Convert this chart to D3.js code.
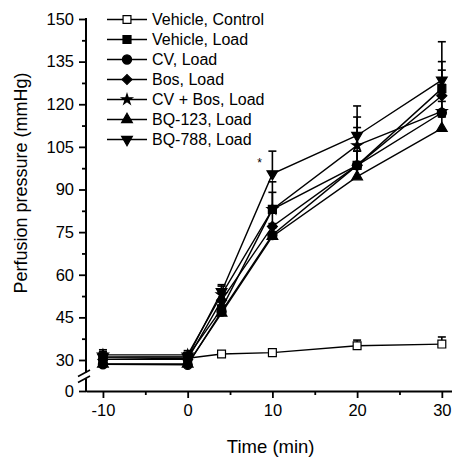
<!DOCTYPE html>
<meta charset="utf-8">
<style>
  body {
    margin: 0;
    background-color: white;
  }
  text {
    font-family: "Liberation Sans", Arial, sans-serif;
    fill: black;
  }
</style>
<script src="https://d3js.org/d3.v7.min.js"></script>
<body>
<div id="my_dataviz"></div>
<script>
  // time points (min)
  var times = [-10, 0, 4, 10, 20, 30];

  var seriesNames = ["Vehicle, Control", "Vehicle, Load", "CV, Load", "Bos, Load",
                     "CV + Bos, Load", "BQ-123, Load", "BQ-788, Load"];

  // mean perfusion pressure (mmHg), one array per group
  var vehicleControl = [30.2, 30.6, 32.1, 32.6, 35.0, 35.6];
  var vehicleLoad    = [31.0, 31.2, 48.0, 83.0, 98.5, 125.5];
  var cvLoad         = [28.5, 28.3, 47.0, 74.0, 98.5, 117.0];
  var bosLoad        = [30.2, 30.2, 51.0, 77.0, 98.5, 123.0];
  var cvBosLoad      = [31.8, 31.8, 53.0, 83.0, 105.5, 117.5];
  var bq123Load      = [28.6, 28.6, 46.5, 73.5, 94.5, 111.5];
  var bq788Load      = [31.0, 31.0, 54.0, 95.5, 109.0, 128.5];

  // upper error bars (SEM)
  var vehicleControlErr = [1.2, 1.0, 0.6, 0.6, 2.0, 2.5];
  var vehicleLoadErr    = [1.8, 1.5, 3.0, 9.7, 13.3, 9.5];
  var cvLoadErr         = [1.5, 1.5, 2.0, 4.0, 5.0, 4.0];
  var bosLoadErr        = [1.5, 1.5, 3.0, 5.0, 5.0, 4.0];
  var cvBosLoadErr      = [1.8, 1.5, 3.0, 6.0, 10.0, 14.5];
  var bq123LoadErr      = [1.5, 1.5, 2.0, 3.0, 4.0, 4.0];
  var bq788LoadErr      = [2.0, 1.5, 2.5, 8.0, 10.4, 13.5];

  var xTicks = [-10, 0, 10, 20, 30];
  var xMinorTicks = [-5, 5, 15, 25];
  var yTicks = [0, 30, 45, 60, 75, 90, 105, 120, 135, 150];
  var yMinorTicks = [37.5, 52.5, 67.5, 82.5, 97.5, 112.5, 127.5, 142.5];

  var allValues = [vehicleControl, vehicleLoad, cvLoad, bosLoad, cvBosLoad, bq123Load, bq788Load];
  var allErrs = [vehicleControlErr, vehicleLoadErr, cvLoadErr, bosLoadErr, cvBosLoadErr, bq123LoadErr, bq788LoadErr];

  var width = 452, height = 457;

  var svg = d3.select("#my_dataviz")
    .append("svg")
      .attr("width", width)
      .attr("height", height);

  var x = d3.scaleLinear().domain([-12, 31.2]).range([86, 452]);
  // broken axis: 0 sits below the break, 30..150 above it
  var y = d3.scaleLinear().domain([0, 25, 150]).range([391, 374.2, 19]);

  // marker shapes
  var symbols = [
    {type: d3.symbolSquare, size: 62, rot: 0, fill: "white"},
    {type: d3.symbolSquare, size: 64, rot: 0, fill: "black"},
    {type: d3.symbolCircle, size: 66, rot: 0, fill: "black"},
    {type: d3.symbolSquare, size: 50, rot: 45, fill: "black"},
    {type: d3.symbolStar, size: 34, rot: 0, fill: "black"},
    {type: d3.symbolTriangle, size: 50, rot: 0, fill: "black"},
    {type: d3.symbolTriangle, size: 50, rot: 180, fill: "black"}
  ];

  var series = seriesNames.map(function(name, i) {
    return {
      name: name,
      sym: symbols[i],
      points: times.map(function(t, j) { return {t: t, v: allValues[i][j], e: allErrs[i][j]}; })
    };
  });

  // plain hyphen for negatives, like the original
  var plain = function(d) { return String(d); };

  // axes
  var xAxis = svg.append("g")
    .attr("transform", "translate(0,391)")
    .call(d3.axisBottom(x).tickValues(xTicks).tickFormat(plain).tickSize(7).tickPadding(6).tickSizeOuter(0));
  xAxis.select(".domain").attr("stroke-width", 2);
  xAxis.selectAll(".tick line").attr("stroke-width", 1.8);
  xAxis.selectAll("text").style("font-size", "16.5px").style("font-family", "'Liberation Sans', Arial, sans-serif");

  var xMinor = svg.append("g")
    .attr("transform", "translate(0,391)")
    .call(d3.axisBottom(x).tickValues(xMinorTicks).tickSize(4).tickFormat(""));
  xMinor.select(".domain").remove();
  xMinor.selectAll(".tick line").attr("stroke-width", 1.8);

  var yAxis = svg.append("g")
    .attr("transform", "translate(86,0)")
    .call(d3.axisLeft(y).tickValues(yTicks).tickFormat(plain).tickSize(7).tickPadding(5));
  yAxis.select(".domain").remove();
  yAxis.selectAll(".tick line").attr("stroke-width", 1.8);
  yAxis.selectAll("text").style("font-size", "16.5px").style("font-family", "'Liberation Sans', Arial, sans-serif");

  var yMinor = svg.append("g")
    .attr("transform", "translate(86,0)")
    .call(d3.axisLeft(y).tickValues(yMinorTicks).tickSize(4).tickFormat(""));
  yMinor.select(".domain").remove();
  yMinor.selectAll(".tick line").attr("stroke-width", 1.8);

  // y axis line in two pieces with the break marks
  svg.append("line")
    .attr("x1", 86).attr("x2", 86)
    .attr("y1", y(150) - 1).attr("y2", 372.5)
    .attr("stroke", "black").attr("stroke-width", 2);
  svg.append("line")
    .attr("x1", 86).attr("x2", 86)
    .attr("y1", 378.5).attr("y2", 392)
    .attr("stroke", "black").attr("stroke-width", 2);
  [0, 6].forEach(function(off) {
    svg.append("line")
      .attr("x1", 78).attr("y1", 376.5 + off)
      .attr("x2", 90).attr("y2", 370 + off)
      .attr("stroke", "black").attr("stroke-width", 1.6);
  });

  // axis titles
  svg.append("text")
    .attr("x", x(9.8))
    .attr("y", 453)
    .attr("text-anchor", "middle")
    .style("font-size", "18.5px")
    .text("Time (min)");

  svg.append("text")
    .attr("transform", "translate(27," + 183 + ") rotate(-90)")
    .attr("text-anchor", "middle")
    .style("font-size", "18px")
    .text("Perfusion pressure (mmHg)");

  var line = d3.line()
    .x(function(d) { return x(d.t); })
    .y(function(d) { return y(d.v); });

  // lines
  svg.selectAll(".series-line")
    .data(series)
    .enter()
    .append("path")
      .attr("class", "series-line")
      .attr("d", function(d) { return line(d.points); })
      .attr("fill", "none")
      .attr("stroke", "black")
      .attr("stroke-width", 1.4);

  // error bars (upper only)
  series.forEach(function(s) {
    var g = svg.append("g");
    g.selectAll("line.err")
      .data(s.points)
      .enter()
      .append("line")
        .attr("x1", function(d) { return x(d.t); })
        .attr("x2", function(d) { return x(d.t); })
        .attr("y1", function(d) { return y(d.v); })
        .attr("y2", function(d) { return y(d.v + d.e); })
        .attr("stroke", "black")
        .attr("stroke-width", 1.6);
    g.selectAll("line.cap")
      .data(s.points)
      .enter()
      .append("line")
        .attr("x1", function(d) { return x(d.t) - 4; })
        .attr("x2", function(d) { return x(d.t) + 4; })
        .attr("y1", function(d) { return y(d.v + d.e); })
        .attr("y2", function(d) { return y(d.v + d.e); })
        .attr("stroke", "black")
        .attr("stroke-width", 1.6);
  });

  // markers
  series.forEach(function(s) {
    svg.append("g")
      .selectAll("path")
      .data(s.points)
      .enter()
      .append("path")
        .attr("d", d3.symbol().type(s.sym.type).size(s.sym.size))
        .attr("transform", function(d) {
          return "translate(" + x(d.t) + "," + y(d.v) + ") rotate(" + s.sym.rot + ")";
        })
        .attr("fill", s.sym.fill)
        .attr("stroke", "black")
        .attr("stroke-width", 1.2);
  });

  // significance mark
  svg.append("text")
    .attr("x", x(8.5))
    .attr("y", y(98))
    .attr("text-anchor", "middle")
    .style("font-size", "12px")
    .text("*");

  // legend
  var legend = svg.selectAll(".legend")
    .data(series)
    .enter()
    .append("g")
      .attr("class", "legend")
      .attr("transform", function(d, i) { return "translate(107," + (19.5 + i * 20) + ")"; });

  legend.append("line")
    .attr("x1", 0).attr("x2", 40)
    .attr("stroke", "black").attr("stroke-width", 1.4);

  legend.append("path")
    .attr("d", function(d) { return d3.symbol().type(d.sym.type).size(d.sym.size)(); })
    .attr("transform", function(d) { return "translate(20,0) rotate(" + d.sym.rot + ")"; })
    .attr("fill", function(d) { return d.sym.fill; })
    .attr("stroke", "black")
    .attr("stroke-width", 1.2);

  legend.append("text")
    .attr("x", 45)
    .attr("dy", "0.36em")
    .style("font-size", "16px")
    .text(function(d) { return d.name; });
</script>
</body>
